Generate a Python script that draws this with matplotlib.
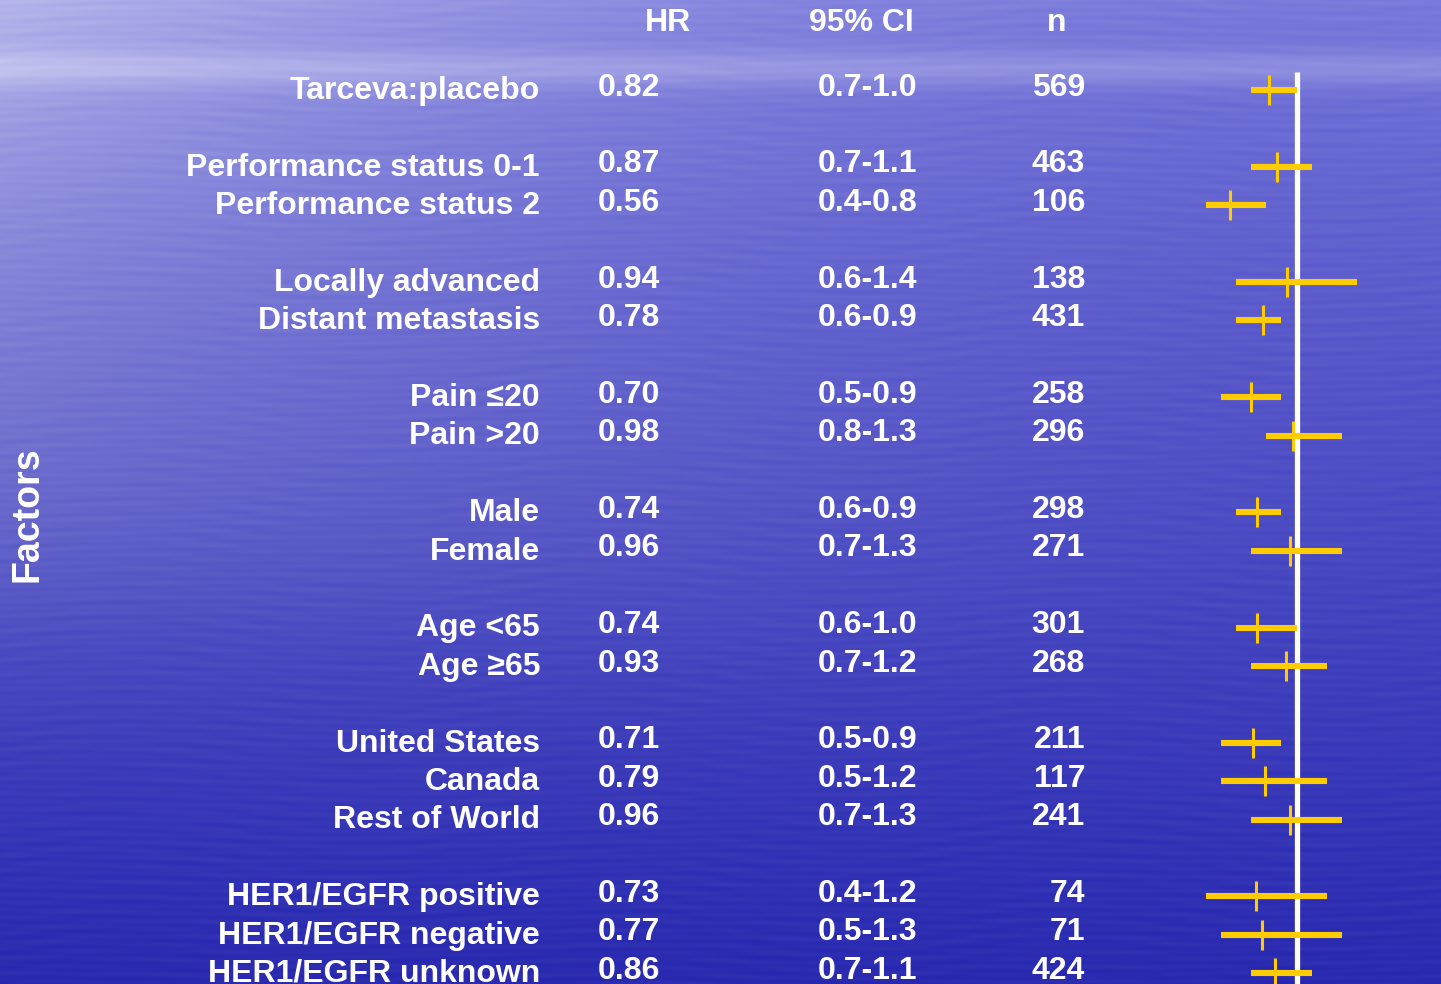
import numpy as np
import matplotlib
matplotlib.use("Agg")
import matplotlib.pyplot as plt
from matplotlib import font_manager

# Subgroup survival analysis, erlotinib vs placebo
factors = ["Tarceva:placebo",
           "Performance status 0-1", "Performance status 2",
           "Locally advanced", "Distant metastasis",
           "Pain \u226420", "Pain >20",
           "Male", "Female",
           "Age <65", "Age \u226565",
           "United States", "Canada", "Rest of World",
           "HER1/EGFR positive", "HER1/EGFR negative", "HER1/EGFR unknown"]
hr = [0.82, 0.87, 0.56, 0.94, 0.78, 0.70, 0.98, 0.74, 0.96, 0.74, 0.93,
      0.71, 0.79, 0.96, 0.73, 0.77, 0.86]
ci_low = [0.7, 0.7, 0.4, 0.6, 0.6, 0.5, 0.8, 0.6, 0.7, 0.6, 0.7,
          0.5, 0.5, 0.7, 0.4, 0.5, 0.7]
ci_high = [1.0, 1.1, 0.8, 1.4, 0.9, 0.9, 1.3, 0.9, 1.3, 1.0, 1.2,
           0.9, 1.2, 1.3, 1.2, 1.3, 1.1]
n_patients = [569, 463, 106, 138, 431, 258, 296, 298, 271, 301, 268,
              211, 117, 241, 74, 71, 424]
group_sizes = [1, 2, 2, 2, 2, 2, 3, 3]

W, H = 1441, 984
names = {f.name for f in font_manager.fontManager.ttflist}
FONT = ["Liberation Sans", "DejaVu Sans"]
NARROW = ["Liberation Sans Narrow"] + FONT if "Liberation Sans Narrow" in names else FONT
plt.rcParams["font.family"] = FONT

# row slots: one blank slot between groups
slots = []
s = 0
for g in group_sizes:
    for _ in range(g):
        slots.append(s)
        s += 1
    s += 1
slots = np.array(slots, dtype=float)

# ocean-like backdrop
yy, xx = np.mgrid[0:H, 0:W].astype(float)
t = yy / H
u = xx / W
r = 122 - 80 * t ** 0.8
r += 60 * (1 - u) ** 2 * np.clip(1 - 1.5 * t, 0, 1)
r += 28 * np.exp(-((yy - 68) / 18) ** 2)
r += 15 * (1 - u) * np.exp(-((yy - 520) / 220) ** 2)
r += 3 * np.sin(yy * 0.45 + 4 * np.sin(xx * 0.013)) * np.sin(xx * 0.017 + yy * 0.031)
r += 2 * np.sin(yy * 0.83 + 3 * np.sin(xx * 0.007 + yy * 0.01))
b = r * 0.28 + 165 + 20 * (1 - t)
img = np.dstack([r, r, np.clip(b, 0, 255)]).clip(0, 255) / 255.0

fig = plt.figure(figsize=(W / 100, H / 100), dpi=100)
bg = fig.add_axes([0, 0, 1, 1])
bg.imshow(img, aspect="auto", extent=(0, W, H, 0))
bg.axis("off")

ax = fig.add_axes([0, 0, 1, 1])
ax.patch.set_alpha(0)
ax.axis("off")
# 151 px per HR unit, HR=1 at x=1296.5 px; slot 0 at y=90 px, 38.4 px per slot
ax.set_xlim(1 - 1296.5 / 151, 1 + (W - 1296.5) / 151)
ax.set_ylim((H - 90) / 38.4, -90 / 38.4)

ax.vlines(1.0, -0.47, (H - 90) / 38.4, color="white", lw=3.8, zorder=2)
ax.hlines(slots, ci_low, ci_high, color="#ffcc00", lw=4.4, zorder=3)
ax.vlines(hr, slots - 0.39, slots + 0.39, color="#ffcc00", lw=2.2, zorder=3)

tr = ax.get_yaxis_transform()
txt = dict(color="white", fontsize=23, fontweight="bold", transform=tr, va="center")
for i, (lab, h, lo, hi, n) in enumerate(zip(factors, hr, ci_low, ci_high, n_patients)):
    fam = NARROW if i == 0 else FONT
    ax.text(540 / W, slots[i] + 0.02, lab, ha="right", family=fam, **txt)
    ax.text(598 / W, slots[i] - 0.06, f"{h:.2f}", ha="left", family=fam, **txt)
    ax.text(818 / W, slots[i] - 0.06, f"{lo:.1f}-{hi:.1f}", ha="left", family=fam, **txt)
    ax.text(1085 / W, slots[i] - 0.06, f"{n}", ha="right", family=fam, **txt)

hy = (23 - 90) / 38.4
ax.text(668 / W, hy, "HR", ha="center", family=NARROW, **txt)
ax.text(861 / W, hy, "95% CI", ha="center", family=NARROW, **txt)
ax.text(1057 / W, hy, "n", ha="center", family=NARROW, **txt)

fig.text(28 / W, 1 - 514 / H, "Factors", rotation=90, ha="center", va="center",
         color="white", fontsize=27, fontweight="bold")

fig.savefig("out.png", dpi=100)
